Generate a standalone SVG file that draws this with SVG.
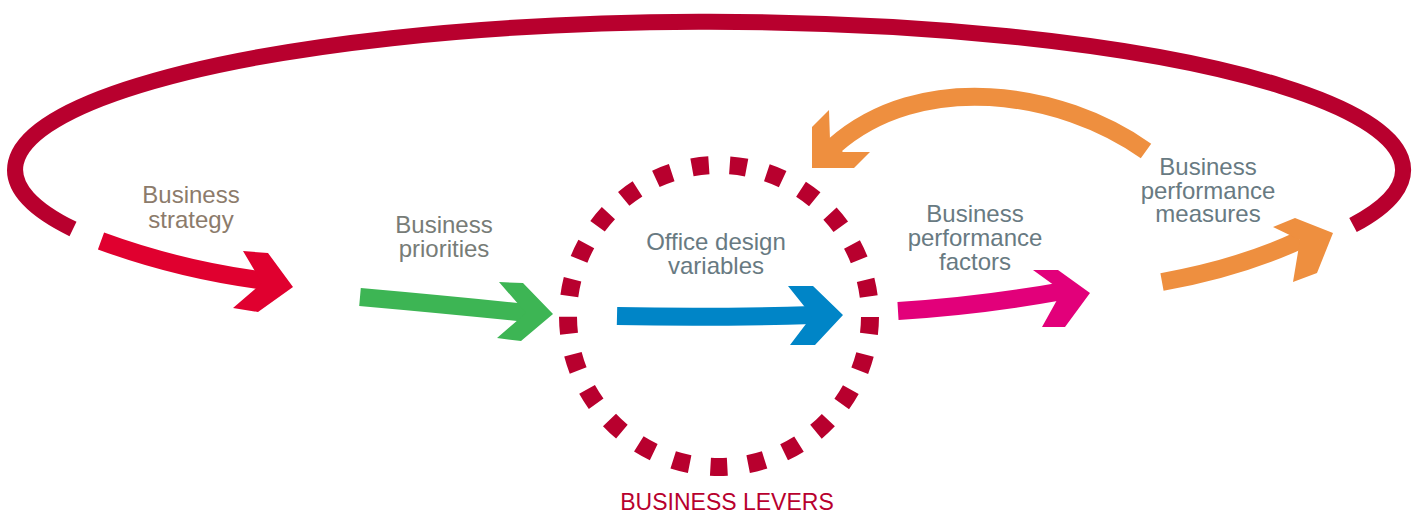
<svg xmlns="http://www.w3.org/2000/svg" width="1422" height="514" viewBox="0 0 1422 514">
<style>
.lbl{font-family:"Liberation Sans",Arial,sans-serif;font-size:24px;text-anchor:middle}
.slate{fill:#687A82}
.shaft{fill:none;stroke-width:18;stroke-linecap:butt}
</style>
<rect width="1422" height="514" fill="#fff"/>
<g id="connectors">
  <path id="loop" d="M 73 229 A 694 148 0 1 1 1353 225" fill="none" stroke="#B8002E" stroke-width="16"/>
  <g id="arrow-strategy">
    <path class="shaft" stroke="#E0002F" d="M 101 241 Q 180 270 266 281"/>
    <polygon fill="#E0002F" points="243,251 268,253 293,287 258,312 233,308 262,283"/>
  </g>
  <g id="arrow-priorities">
    <path class="shaft" stroke="#3DB554" d="M 360 297 Q 450 305 527 313"/>
    <polygon fill="#3DB554" points="499,282 523,283 553,314 521,341 497,338 526,313"/>
  </g>
  <g id="arrow-office">
    <path class="shaft" stroke="#0085C7" d="M 617 316 Q 710 318 813 315"/>
    <polygon fill="#0085C7" points="788,286 813,286 843,315 815,345 790,345 812,316"/>
  </g>
  <g id="arrow-factors">
    <path class="shaft" stroke="#E2007A" d="M 898 311 Q 980 306 1063 291"/>
    <polygon fill="#E2007A" points="1033,270 1058,270 1090,293 1065,327 1042,327 1062,291"/>
  </g>
  <g id="arrow-measures">
    <path class="shaft" stroke="#EE8F3F" d="M 1162 282 Q 1240 268 1300 240"/>
    <polygon fill="#EE8F3F" points="1273,227 1295,218 1333,233 1317,273 1293,282 1300,240"/>
  </g>
  <g id="arrow-feedback">
    <path class="shaft" stroke="#EE8F3F" d="M 1146 151 C 1060 90 920 70 834 146"/>
    <polygon fill="#EE8F3F" points="812,168 812,127 829,110 830,140 843,152 870,152 854,168"/>
  </g>
</g>
<g id="node-levers">
  <circle cx="719" cy="316" r="151" fill="none" stroke="#B8002E" stroke-width="18" stroke-dasharray="17 20.95" stroke-dashoffset="-1"/>
  <text class="lbl" x="727" y="510" fill="#B8002E" style="font-size:23px">BUSINESS LEVERS</text>
</g>
<g id="node-strategy">
  <text class="lbl" x="191" y="203" fill="#8C7B6B">Business</text>
  <text class="lbl" x="191" y="228" fill="#8C7B6B">strategy</text>
</g>
<g id="node-priorities">
  <text class="lbl" x="444" y="233" fill="#777C77">Business</text>
  <text class="lbl" x="444" y="257" fill="#777C77">priorities</text>
</g>
<g id="node-office">
  <text class="lbl slate" x="716" y="250">Office design</text>
  <text class="lbl slate" x="716" y="274">variables</text>
</g>
<g id="node-factors">
  <text class="lbl slate" x="975" y="222">Business</text>
  <text class="lbl slate" x="975" y="246">performance</text>
  <text class="lbl slate" x="975" y="270">factors</text>
</g>
<g id="node-measures">
  <text class="lbl slate" x="1208" y="175">Business</text>
  <text class="lbl slate" x="1208" y="199">performance</text>
  <text class="lbl slate" x="1208" y="222">measures</text>
</g>
</svg>
